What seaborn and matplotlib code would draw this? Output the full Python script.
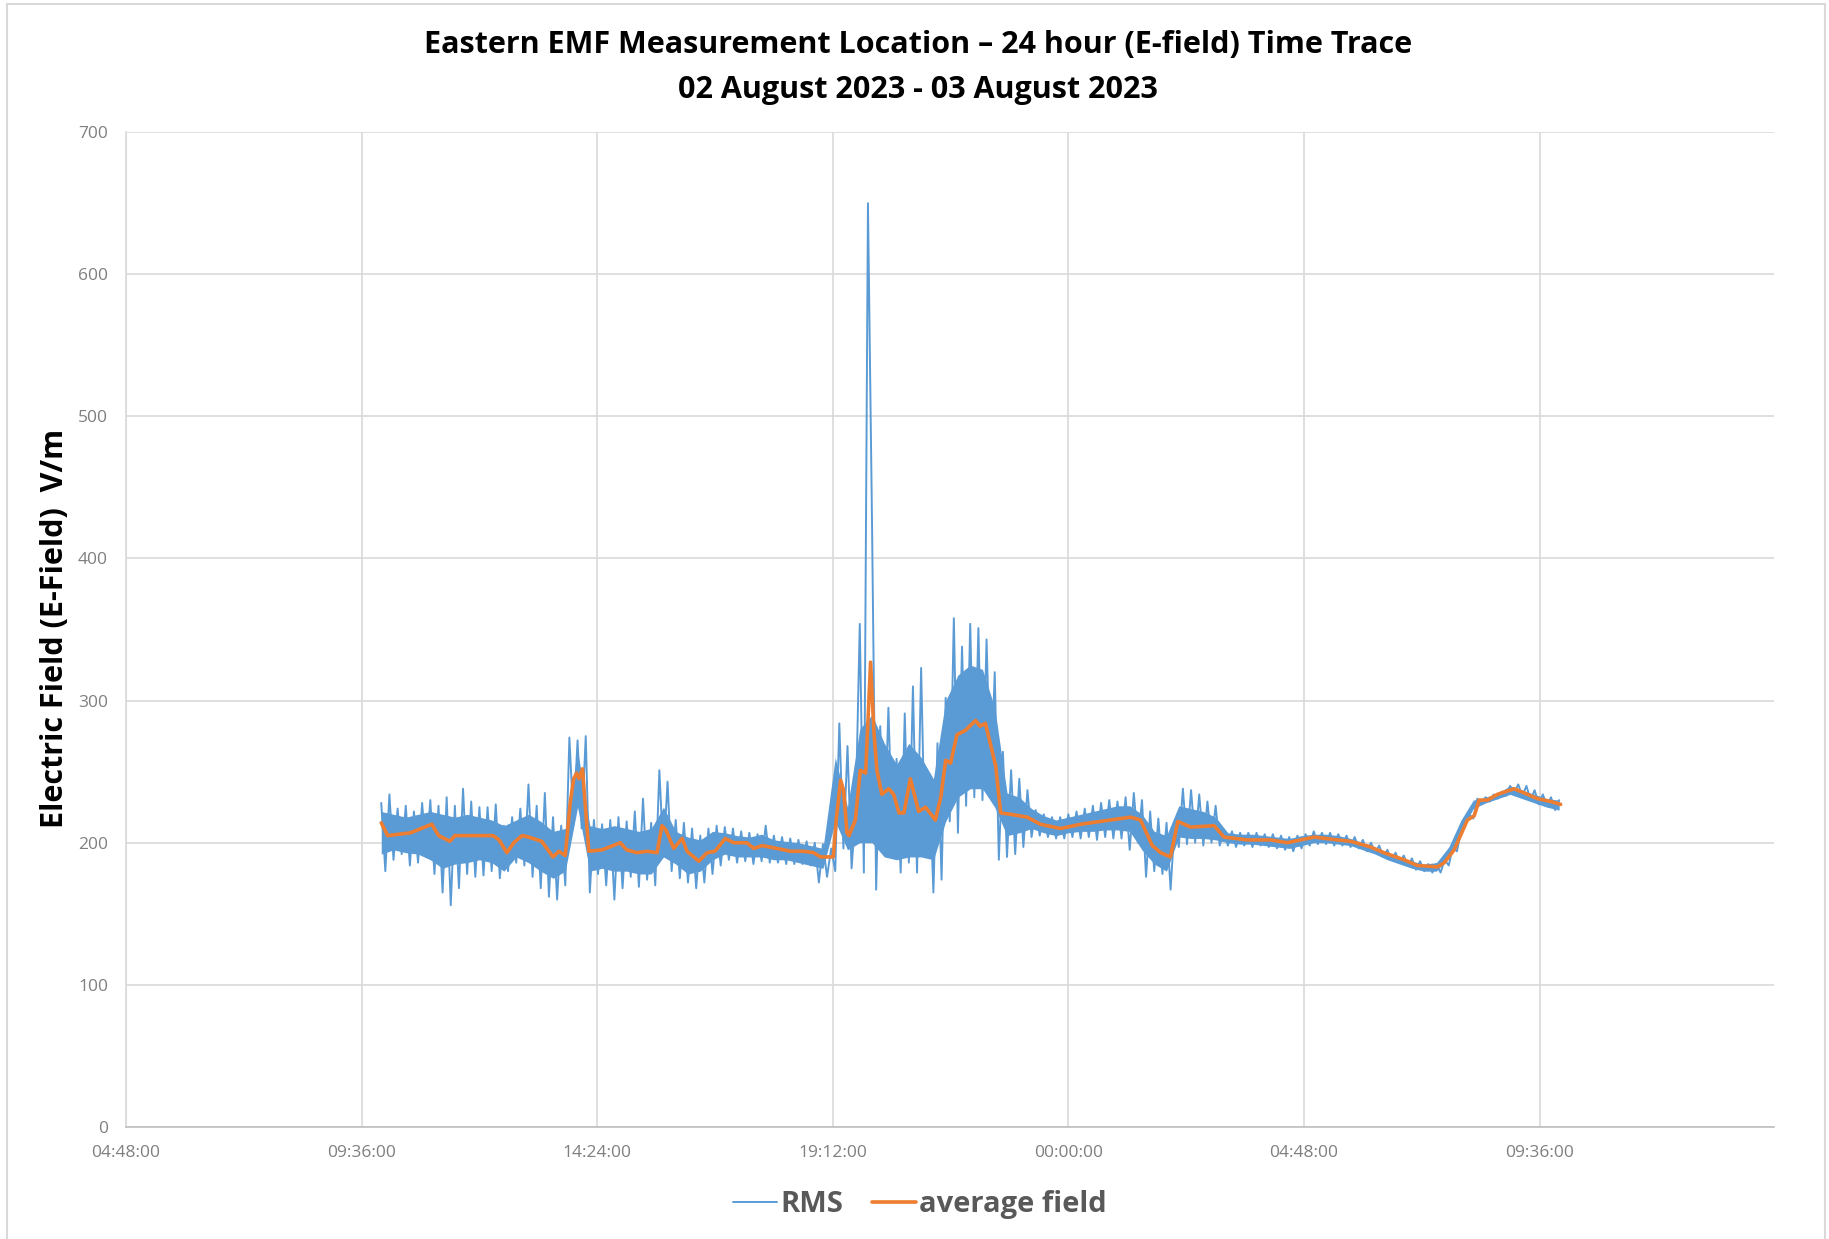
import matplotlib
matplotlib.use("Agg")
import matplotlib.pyplot as plt
from matplotlib.ticker import FuncFormatter
from matplotlib.patches import Rectangle
import numpy as np
import pandas as pd
import seaborn as sns

sns.set_theme(style="white")
plt.rcParams['font.family'] = ['Open Sans', 'DejaVu Sans']

title_line1 = "Eastern EMF Measurement Location \u2013 24 hour (E-field) Time Trace"
title_line2 = "02 August 2023 - 03 August 2023"
y_label = "Electric Field (E-Field)  V/m"

# RMS samples every 5 minutes starting 10:00 on 02 Aug (one row per hour)
rms_start_hour = 10.0
rms_step_min = 5
rms_values = [
    228, 180, 234, 188, 224, 192, 226, 184, 222, 186, 228, 190,   # 10h
    230, 178, 226, 165, 232, 156, 226, 168, 238, 178, 229, 176,   # 11h
    225, 177, 225, 180, 227, 175, 212, 180, 218, 186, 224, 184,   # 12h
    241, 176, 226, 168, 235, 162, 218, 160, 212, 170, 274, 215,   # 13h
    272, 210, 275, 165, 216, 178, 213, 170, 216, 160, 218, 168,   # 14h
    215, 176, 222, 169, 231, 174, 214, 170, 251, 190, 243, 180,   # 15h
    216, 175, 214, 172, 210, 168, 205, 172, 210, 178, 212, 184,   # 16h
    211, 188, 210, 186, 208, 187, 207, 185, 206, 187, 212, 186,   # 17h
    205, 186, 204, 185, 203, 185, 202, 185, 201, 184, 200, 172,   # 18h
    199, 176, 196, 180, 284, 196, 268, 182, 222, 354, 179, 650,   # 19h
    424, 167, 282, 199, 295, 200, 259, 179, 291, 186, 310, 179,   # 20h
    323, 190, 248, 165, 270, 174, 302, 215, 358, 207, 338, 226,   # 21h
    354, 232, 351, 230, 343, 238, 320, 188, 264, 190, 251, 192,   # 22h
    245, 197, 237, 204, 223, 205, 220, 204, 218, 203, 218, 203,   # 23h
    220, 204, 222, 203, 224, 204, 226, 202, 228, 204, 230, 203,   # 00h
    229, 203, 232, 195, 235, 200, 230, 176, 222, 180, 217, 178,   # 01h
    214, 167, 215, 197, 238, 199, 237, 200, 234, 198, 229, 200,   # 02h
    226, 198, 208, 198, 208, 197, 207, 198, 207, 197, 207, 198,   # 03h
    206, 197, 206, 196, 205, 195, 204, 194, 205, 196, 206, 198,   # 04h
    208, 199, 207, 199, 207, 198, 206, 198, 205, 197, 204, 196,   # 05h
    202, 194, 200, 193, 198, 190, 195, 188, 193, 186, 191, 184,   # 06h
    189, 181, 187, 180, 185, 179, 185, 179, 188, 184, 197, 194,   # 07h
    208, 212, 220, 217, 231, 228, 232, 229, 234, 231, 236, 233,   # 08h
    240, 235, 241, 233, 240, 230, 237, 227, 234, 226, 232, 223,   # 09h
    230,
]

# dense core of the RMS trace, read every 15 minutes from 10:00
core_step_min = 15
core_hi = [
    222, 220, 218, 220,   # 10h
    222, 220, 218, 220,   # 11h
    218, 216, 212, 216,   # 12h
    220, 215, 208, 210,   # 13h
    265, 212, 210, 212,   # 14h
    210, 208, 210, 225,   # 15h
    208, 204, 202, 208,   # 16h
    207, 205, 204, 206,   # 17h
    202, 201, 200, 198,   # 18h
    196, 260, 225, 280,   # 19h
    290, 270, 255, 270,   # 20h
    260, 245, 300, 318,   # 21h
    325, 322, 295, 235,   # 22h
    232, 224, 219, 216,   # 23h
    218, 220, 222, 224,   # 00h
    226, 226, 220, 208,   # 01h
    205, 226, 224, 222,   # 02h
    218, 207, 206, 206,   # 03h
    205, 204, 203, 205,   # 04h
    206, 206, 205, 203,   # 05h
    200, 197, 193, 190,   # 06h
    187, 185, 186, 197,   # 07h
    216, 230, 232, 235,   # 08h
    240, 237, 234, 231,   # 09h
    230,
]
core_lo = [
    192, 195, 193, 192,   # 10h
    188, 182, 185, 186,   # 11h
    188, 186, 180, 190,   # 12h
    186, 180, 175, 180,   # 13h
    225, 180, 182, 180,   # 14h
    180, 178, 178, 190,   # 15h
    185, 178, 180, 188,   # 16h
    192, 190, 190, 190,   # 17h
    188, 188, 186, 184,   # 18h
    182, 215, 195, 200,   # 19h
    200, 190, 188, 190,   # 20h
    190, 188, 215, 232,   # 21h
    238, 238, 225, 205,   # 22h
    207, 210, 207, 205,   # 23h
    207, 208, 208, 209,   # 00h
    209, 208, 195, 185,   # 01h
    180, 204, 203, 203,   # 02h
    202, 200, 199, 199,   # 03h
    198, 197, 196, 198,   # 04h
    200, 200, 199, 198,   # 05h
    195, 192, 188, 185,   # 06h
    182, 180, 180, 190,   # 07h
    208, 224, 228, 231,   # 08h
    234, 231, 228, 225,   # 09h
    223,
]

# average field (hours since 00:00 on 02 Aug)
avg_hours = [10.0, 10.13, 10.6, 11.03, 11.17, 11.4, 11.5, 11.7, 12.28, 12.4,
             12.56, 12.7, 12.87, 13.0, 13.27, 13.5, 13.62, 13.75, 13.85, 13.92,
             13.98, 14.03, 14.1, 14.23, 14.5, 14.87, 15.0, 15.21, 15.42, 15.62,
             15.72, 15.8, 15.96, 16.13, 16.23, 16.47, 16.64, 16.8, 17.01, 17.18,
             17.45, 17.59, 17.76, 18.06, 18.34, 18.61, 18.81, 18.95, 19.21, 19.27,
             19.36, 19.42, 19.49, 19.53, 19.66, 19.76, 19.87, 19.97, 20.04, 20.1,
             20.2, 20.34, 20.44, 20.55, 20.65, 20.78, 20.95, 21.09, 21.29, 21.4,
             21.5, 21.6, 21.73, 21.9, 22.11, 22.2, 22.31, 22.52, 22.62, 22.82,
             23.16, 23.43, 23.84, 24.25, 24.45, 24.86, 25.27, 25.47, 25.71, 25.88,
             26.08, 26.23, 26.49, 26.97, 27.17, 27.65, 28.12, 28.46, 29.01, 29.48,
             29.75, 30.16, 30.43, 30.84, 31.11, 31.52, 31.66, 31.86, 32.13, 32.27,
             32.37, 32.54, 32.74, 33.08, 33.29, 33.56, 33.83, 34.03]
avg_values = [214, 205, 207, 213, 205, 201, 205, 205, 205, 202,
              193, 200, 205, 204, 201, 190, 194, 191, 228, 245,
              249, 245, 252, 194, 195, 200, 195, 193, 194, 193,
              212, 209, 196, 203, 194, 187, 193, 194, 203, 200,
              200, 196, 198, 196, 194, 194, 193, 190, 190, 216,
              244, 237, 207, 205, 216, 251, 249, 327, 277, 251,
              234, 238, 234, 221, 221, 245, 222, 225, 216, 232,
              258, 256, 276, 279, 286, 282, 284, 254, 221, 220,
              218, 213, 210, 213, 214, 216, 218, 216, 198, 193,
              190, 215, 211, 212, 204, 202, 202, 200, 204, 202,
              201, 197, 193, 188, 184, 183, 186, 195, 216, 219,
              230, 230, 234, 238, 235, 231, 229, 227]

x_tick_days = [0.2, 0.4, 0.6, 0.8, 1.0, 1.2, 1.4]
y_ticks = [0, 100, 200, 300, 400, 500, 600, 700]

rms_color = "#5B9BD5"
avg_color = "#ED7D31"
grid_color = "#D9D9D9"
text_gray = "#7F7F7F"


def day_to_clock(v, pos=None):
    secs = int(round((v % 1.0) * 86400))
    h, rem = divmod(secs, 3600)
    m, s = divmod(rem, 60)
    return f"{h % 24:02d}:{m:02d}:{s:02d}"


def main():
    rms = pd.DataFrame({"value": rms_values})
    rms["day"] = (rms_start_hour + rms.index * rms_step_min / 60.0) / 24.0
    core = pd.DataFrame({"hi": core_hi, "lo": core_lo})
    core["day"] = (rms_start_hour + core.index * core_step_min / 60.0) / 24.0
    avg = pd.DataFrame({"day": np.array(avg_hours) / 24.0, "value": avg_values})

    fig = plt.figure(figsize=(18.29, 12.39), dpi=100)
    ax = fig.add_axes([0.0689, 0.0904, 0.901, 0.803])

    ax.fill_between(core["day"], core["lo"], core["hi"], color=rms_color,
                    linewidth=0, zorder=2)
    sns.lineplot(data=rms, x="day", y="value", ax=ax, color=rms_color,
                 linewidth=1.4, label="RMS", sort=False, zorder=3)
    sns.lineplot(data=avg, x="day", y="value", ax=ax, color=avg_color,
                 linewidth=2.6, label="average field", sort=False, zorder=4)

    ax.set_xlim(0.2, 1.599)
    ax.set_ylim(0, 700)
    ax.set_xticks(x_tick_days)
    ax.set_yticks(y_ticks)
    ax.xaxis.set_major_formatter(FuncFormatter(day_to_clock))
    ax.grid(True, color=grid_color, linewidth=1.2)
    ax.set_axisbelow(True)
    for side in ["top", "right"]:
        ax.spines[side].set_visible(False)
    ax.spines["left"].set_color(grid_color)
    ax.spines["left"].set_linewidth(1.2)
    ax.spines["bottom"].set_color("#BFBFBF")
    ax.spines["bottom"].set_linewidth(1.2)
    ax.tick_params(axis="both", length=5, width=1.2, color=grid_color,
                   labelsize=12.5, labelcolor=text_gray, pad=8)
    ax.set_xlabel("")
    ax.set_ylabel("")

    fig.text(0.502, 0.9635, title_line1, ha="center", va="center",
             fontsize=22, fontweight="bold", color="black")
    fig.text(0.502, 0.9275, title_line2, ha="center", va="center",
             fontsize=22, fontweight="bold", color="black")
    fig.text(0.030, 0.493, y_label, ha="center", va="center", rotation=90,
             fontsize=22, fontweight="bold", color="black")

    handles, labels = ax.get_legend_handles_labels()
    ax.legend([], [], frameon=False)
    fig.legend(handles, labels, loc="center", bbox_to_anchor=(0.503, 0.028),
               ncol=2, frameon=False, handlelength=1.5, handletextpad=0.1,
               columnspacing=1.0, prop={"size": 21, "weight": "bold"},
               labelcolor="#595959")

    fig.patches.append(Rectangle((0.004, -0.01), 0.994, 1.007,
                                 transform=fig.transFigure, fill=False,
                                 edgecolor=grid_color, linewidth=1.5))

    fig.savefig("out.png", dpi=100)


if __name__ == "__main__":
    main()
